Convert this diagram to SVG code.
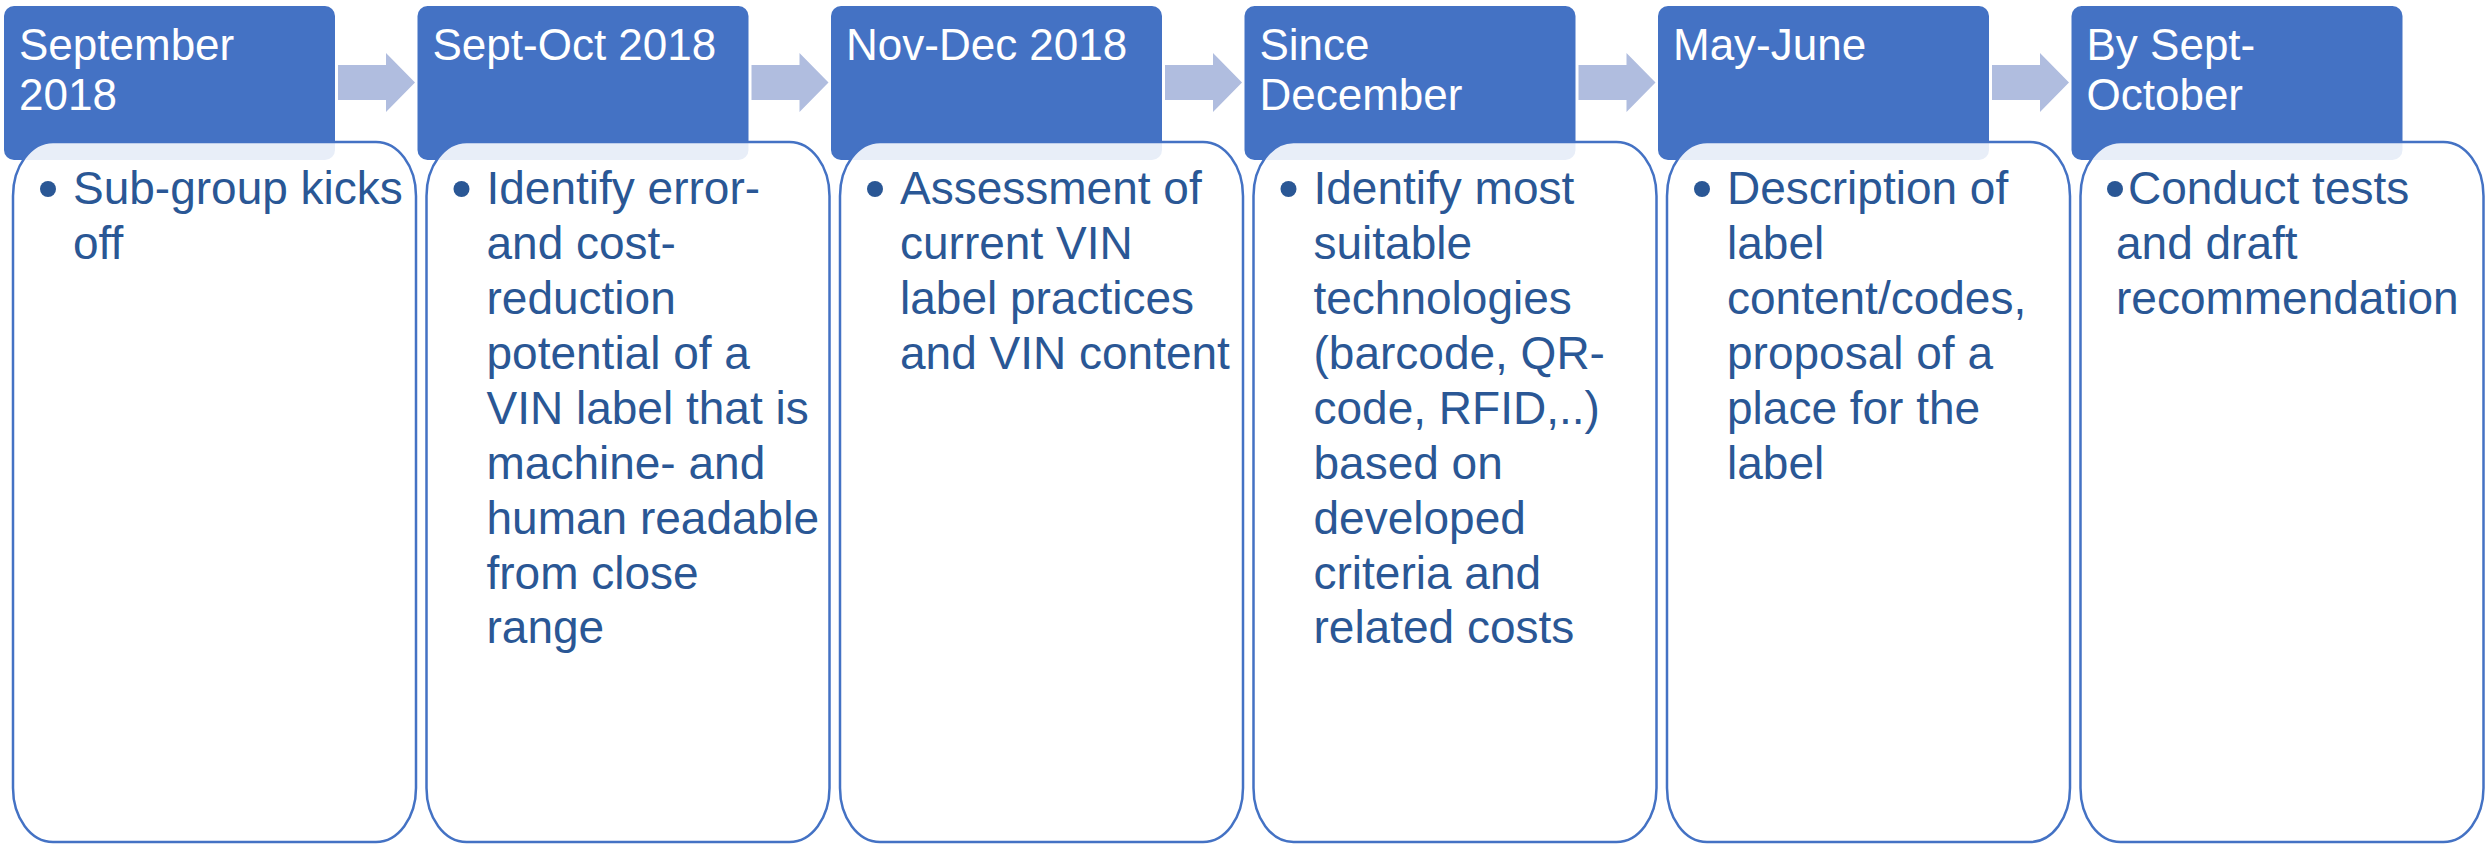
<svg xmlns="http://www.w3.org/2000/svg" width="2486" height="844" viewBox="0 0 2486 844">
<style>
.hd{fill:#4472C4}
.bd{fill:#FFFFFF;fill-opacity:0.88;stroke:#4472C4;stroke-width:2.5}
.ht{font-family:"Liberation Sans",Arial,sans-serif;font-size:44px;fill:#FFFFFF}
.bt{font-family:"Liberation Sans",Arial,sans-serif;font-size:46px;fill:#2A5795}
.bu{fill:#2A5795}
.ar{fill:#B0BDDF}
</style>
<defs>
<path id="arrow" d="M0,0 H48 V-12 L77,17.5 L48,47 V35 H0 Z"/>
</defs>
<rect width="2486" height="844" fill="#FFFFFF"/>
<g id="connectors">
<use href="#arrow" class="ar" x="338" y="65"/>
<use href="#arrow" class="ar" x="751.5" y="65"/>
<use href="#arrow" class="ar" x="1165" y="65"/>
<use href="#arrow" class="ar" x="1578.5" y="65"/>
<use href="#arrow" class="ar" x="1992" y="65"/>
</g>
<g id="node1">
<rect class="hd" x="4" y="6" width="331" height="154" rx="10"/>
<text class="ht" x="19" y="60">September</text>
<text class="ht" x="19" y="110">2018</text>
<rect class="bd" x="13" y="142" width="403" height="700" rx="40" ry="54"/>
<circle class="bu" cx="48" cy="189" r="8"/>
<text class="bt" x="73" y="204">Sub-group kicks</text>
<text class="bt" x="73" y="259">off</text>
</g>
<g id="node2">
<rect class="hd" x="417.5" y="6" width="331" height="154" rx="10"/>
<text class="ht" x="432.5" y="60">Sept-Oct 2018</text>
<rect class="bd" x="426.5" y="142" width="403" height="700" rx="40" ry="54"/>
<circle class="bu" cx="461.5" cy="189" r="8"/>
<text class="bt" x="486.5" y="204">Identify error-</text>
<text class="bt" x="486.5" y="259">and cost-</text>
<text class="bt" x="486.5" y="314">reduction</text>
<text class="bt" x="486.5" y="369">potential of a</text>
<text class="bt" x="486.5" y="424">VIN label that is</text>
<text class="bt" x="486.5" y="479">machine- and</text>
<text class="bt" x="486.5" y="534">human readable</text>
<text class="bt" x="486.5" y="589">from close</text>
<text class="bt" x="486.5" y="643">range</text>
</g>
<g id="node3">
<rect class="hd" x="831" y="6" width="331" height="154" rx="10"/>
<text class="ht" x="846" y="60">Nov-Dec 2018</text>
<rect class="bd" x="840" y="142" width="403" height="700" rx="40" ry="54"/>
<circle class="bu" cx="875" cy="189" r="8"/>
<text class="bt" x="900" y="204">Assessment of</text>
<text class="bt" x="900" y="259">current VIN</text>
<text class="bt" x="900" y="314">label practices</text>
<text class="bt" x="900" y="369">and VIN content</text>
</g>
<g id="node4">
<rect class="hd" x="1244.5" y="6" width="331" height="154" rx="10"/>
<text class="ht" x="1259.5" y="60">Since</text>
<text class="ht" x="1259.5" y="110">December</text>
<rect class="bd" x="1253.5" y="142" width="403" height="700" rx="40" ry="54"/>
<circle class="bu" cx="1288.5" cy="189" r="8"/>
<text class="bt" x="1313.5" y="204">Identify most</text>
<text class="bt" x="1313.5" y="259">suitable</text>
<text class="bt" x="1313.5" y="314">technologies</text>
<text class="bt" x="1313.5" y="369">(barcode, QR-</text>
<text class="bt" x="1313.5" y="424">code, RFID,..)</text>
<text class="bt" x="1313.5" y="479">based on</text>
<text class="bt" x="1313.5" y="534">developed</text>
<text class="bt" x="1313.5" y="589">criteria and</text>
<text class="bt" x="1313.5" y="643">related costs</text>
</g>
<g id="node5">
<rect class="hd" x="1658" y="6" width="331" height="154" rx="10"/>
<text class="ht" x="1673" y="60">May-June</text>
<rect class="bd" x="1667" y="142" width="403" height="700" rx="40" ry="54"/>
<circle class="bu" cx="1702" cy="189" r="8"/>
<text class="bt" x="1727" y="204">Description of</text>
<text class="bt" x="1727" y="259">label</text>
<text class="bt" x="1727" y="314">content/codes,</text>
<text class="bt" x="1727" y="369">proposal of a</text>
<text class="bt" x="1727" y="424">place for the</text>
<text class="bt" x="1727" y="479">label</text>
</g>
<g id="node6">
<rect class="hd" x="2071.5" y="6" width="331" height="154" rx="10"/>
<text class="ht" x="2086.5" y="60">By Sept-</text>
<text class="ht" x="2086.5" y="110">October</text>
<rect class="bd" x="2080.5" y="142" width="403" height="700" rx="40" ry="54"/>
<circle class="bu" cx="2115" cy="189" r="8"/>
<text class="bt" x="2128" y="204">Conduct tests</text>
<text class="bt" x="2116" y="259">and draft</text>
<text class="bt" x="2116" y="314">recommendation</text>
</g>
</svg>
